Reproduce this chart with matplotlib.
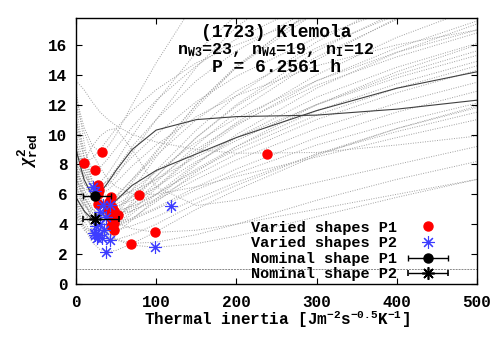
import matplotlib
matplotlib.use('Agg')
import matplotlib.pyplot as plt
from matplotlib.legend_handler import HandlerErrorbar
from matplotlib.container import ErrorbarContainer

plt.rcParams['font.family'] = ['Liberation Mono', 'DejaVu Sans']
plt.rcParams['font.weight'] = 'bold'
plt.rcParams['mathtext.fontset'] = 'custom'
plt.rcParams['mathtext.rm'] = 'Liberation Mono:bold'
plt.rcParams['mathtext.bf'] = 'Liberation Mono:bold'
plt.rcParams['mathtext.it'] = 'Liberation Serif:italic'

# ---------------- data ----------------
# thermal inertia grid of the chi2 curves
curve_x = [0, 10, 20, 30, 40, 50, 70, 100, 150, 200, 300, 400, 500]

# chi2 curves of varied shapes, period P1
curves_p1 = [
    [9.0, 8.1, 8.4, 9.0, 9.7, 10.4, 11.6, 13.0, 14.8, 16.0, 18.0, 19.5, 21.0],
    [12.5, 10.5, 9.3, 8.8, 9.2, 10.0, 12.0, 14.8, 19.0, 23.0, 30.0, 36.0, 42.0],
    [11.0, 9.0, 7.7, 7.8, 8.4, 9.1, 10.5, 12.3, 14.6, 16.4, 19.0, 21.0, 23.0],
    [8.0, 7.2, 6.7, 6.6, 6.9, 7.4, 8.5, 10.0, 12.2, 13.9, 16.5, 18.5, 20.0],
    [13.0, 9.5, 6.8, 6.3, 6.6, 7.2, 8.8, 11.0, 14.5, 17.2, 21.0, 24.0, 26.0],
    [6.8, 6.4, 6.1, 6.0, 6.3, 6.8, 7.9, 9.3, 11.2, 12.6, 14.6, 16.0, 17.0],
    [10.5, 8.5, 7.0, 6.2, 5.85, 5.8, 6.2, 7.0, 8.5, 9.8, 12.0, 13.8, 15.3],
    [12.0, 10.2, 8.8, 7.8, 7.0, 6.5, 6.05, 6.0, 6.5, 7.2, 8.5, 9.8, 11.0],
    [7.5, 6.3, 5.6, 5.35, 5.5, 5.9, 7.0, 8.6, 11.0, 12.9, 15.8, 18.0, 19.8],
    [9.0, 7.5, 6.3, 5.7, 5.5, 5.6, 6.3, 7.5, 9.5, 11.1, 13.6, 15.5, 17.0],
    [8.5, 7.0, 6.0, 5.4, 5.2, 5.2, 5.6, 6.5, 8.2, 9.6, 12.0, 14.0, 15.6],
    [11.0, 8.5, 6.8, 5.7, 5.1, 4.9, 5.2, 6.0, 7.6, 9.0, 11.3, 13.1, 14.6],
    [9.5, 7.5, 6.2, 5.3, 4.9, 4.7, 4.9, 5.6, 7.0, 8.3, 10.4, 12.1, 13.5],
    [7.0, 5.8, 5.0, 4.6, 4.4, 4.45, 4.9, 5.7, 7.3, 8.7, 11.0, 12.8, 14.3],
    [8.0, 6.3, 5.1, 4.5, 4.2, 4.1, 4.4, 5.1, 6.5, 7.7, 9.8, 11.5, 12.9],
    [6.5, 5.3, 4.6, 4.1, 3.9, 3.95, 4.3, 5.0, 6.3, 7.4, 9.3, 10.8, 12.1],
    [7.2, 5.5, 4.4, 3.9, 3.65, 3.6, 3.9, 4.5, 5.7, 6.8, 8.7, 10.2, 11.5],
    [9.0, 7.0, 5.8, 5.0, 4.5, 4.1, 3.7, 3.45, 3.6, 4.0, 5.0, 6.0, 7.0],
    [8.0, 6.0, 4.8, 4.0, 3.4, 3.0, 2.72, 2.8, 3.3, 4.0, 5.6, 7.0, 8.2],
    [13.6, 13.0, 12.2, 11.5, 11.0, 10.6, 10.0, 9.5, 9.0, 8.75, 8.8, 9.3, 9.9],
    [10.0, 8.0, 6.3, 5.2, 4.75, 4.7, 5.3, 6.5, 8.8, 10.8, 14.0, 16.5, 18.5],
    [8.3, 6.8, 5.8, 5.2, 5.0, 5.1, 5.8, 7.2, 9.8, 12.0, 15.6, 18.2, 20.3],
]

# chi2 curves of varied shapes, period P2
curves_p2 = [
    [9.0, 7.4, 6.5, 6.8, 7.4, 8.2, 9.9, 12.2, 15.5, 18.0, 22.0, 25.0, 27.0],
    [7.5, 6.7, 6.25, 6.4, 7.0, 7.7, 9.2, 11.0, 13.6, 15.6, 18.6, 20.8, 22.5],
    [12.0, 8.5, 6.2, 5.35, 5.4, 5.8, 7.0, 8.9, 12.0, 14.5, 18.2, 21.0, 23.2],
    [9.5, 7.8, 6.5, 5.7, 5.35, 5.35, 5.9, 7.0, 9.0, 10.7, 13.3, 15.2, 16.8],
    [6.0, 5.3, 4.8, 4.55, 4.5, 4.6, 5.1, 6.0, 7.7, 9.2, 11.6, 13.4, 14.9],
    [7.0, 5.8, 5.0, 4.8, 5.0, 5.5, 6.8, 8.8, 12.0, 14.6, 18.5, 21.5, 24.0],
    [5.5, 4.5, 3.9, 3.9, 4.2, 4.7, 5.9, 7.6, 10.3, 12.6, 16.2, 19.0, 21.2],
    [5.0, 3.9, 3.4, 3.6, 4.1, 4.8, 6.3, 8.5, 11.8, 14.5, 18.6, 21.6, 24.0],
    [6.0, 4.2, 3.35, 3.4, 3.8, 4.3, 5.5, 7.2, 9.8, 11.9, 15.2, 17.7, 19.7],
    [4.8, 3.8, 3.35, 3.25, 3.5, 3.9, 4.9, 6.4, 8.7, 10.6, 13.6, 15.8, 17.6],
    [7.5, 5.0, 3.6, 3.1, 3.1, 3.4, 4.3, 5.7, 8.0, 10.0, 13.1, 15.5, 17.4],
    [4.6, 3.6, 3.15, 3.15, 3.4, 3.8, 4.7, 6.0, 8.1, 9.8, 12.5, 14.5, 16.1],
    [6.8, 4.9, 3.8, 3.2, 2.97, 2.97, 3.3, 4.0, 5.4, 6.6, 8.7, 10.4, 11.8],
    [5.5, 3.8, 2.8, 2.3, 2.17, 2.25, 2.7, 3.5, 5.0, 6.3, 8.6, 10.4, 11.9],
    [7.5, 5.5, 4.3, 3.6, 3.2, 2.95, 2.6, 2.45, 2.7, 3.2, 4.5, 5.8, 7.0],
    [7.0, 8.2, 9.2, 9.9, 10.3, 10.4, 9.0, 6.5, 5.25, 5.6, 6.8, 8.0, 9.2],
    [8.0, 5.8, 4.4, 3.7, 3.6, 3.75, 4.4, 5.5, 7.5, 9.2, 12.0, 14.2, 16.0],
    [5.8, 4.8, 4.2, 4.0, 4.1, 4.4, 5.3, 6.8, 9.3, 11.5, 15.0, 17.8, 20.0],
]

# chi2 curves of the nominal shape
nominal_curve_p1 = [9.0, 7.0, 5.95, 6.1, 6.8, 7.6, 9.0, 10.3, 11.0, 11.2, 11.3, 11.7, 12.3]
nominal_curve_p2 = [5.8, 4.9, 4.35, 4.5, 5.0, 5.6, 6.6, 7.6, 8.7, 9.8, 11.6, 13.1, 14.2]

# best-fit minima of varied shapes
p1_gamma = [10, 33, 24, 28, 29, 27, 44, 78, 28, 41, 45, 48, 52, 44, 48, 44, 48, 98, 68, 238, 43, 40]
p1_chi2 = [8.1, 8.8, 7.6, 6.6, 6.3, 6.0, 5.8, 5.95, 5.35, 5.5, 5.15, 4.9, 4.65, 4.4, 4.1, 3.9, 3.6,
           3.45, 2.7, 8.7, 4.7, 5.0]
p2_gamma = [21.6, 24, 34, 42, 38, 30, 25, 22, 24, 28, 32, 26, 42, 38, 98.5, 119, 35, 30]
p2_chi2 = [6.5, 6.2, 5.3, 5.3, 4.5, 4.8, 3.85, 3.4, 3.3, 3.25, 3.05, 3.1, 2.95, 2.15, 2.45, 5.2,
           3.6, 4.0]

# nominal shapes with thermal-inertia uncertainty
nominal_gamma = [23.7, 23.7]
nominal_chi2 = [5.9, 4.33]
nominal_err_low = [15.4, 15.4]
nominal_err_high = [19.9, 30.3]

title_lines = ['(1723) Klemola',
               r'n$_{\mathrm{W3}}$=23, n$_{\mathrm{W4}}$=19, n$_{\mathrm{I}}$=12',
               'P = 6.2561 h']

# ---------------- figure ----------------
fig = plt.figure(figsize=(5, 3.5), dpi=100)
ax = fig.add_axes([0.152, 0.1886, 0.802, 0.76])

dot_style = dict(color='#a0a0a0', lw=0.7, linestyle=(0, (1, 1.5)))
for c in curves_p1 + curves_p2:
    ax.plot(curve_x, c, **dot_style, zorder=1)
ax.plot(curve_x, nominal_curve_p1, color='#404040', lw=0.8, zorder=2)
ax.plot(curve_x, nominal_curve_p2, color='#404040', lw=0.8, zorder=2)

ax.axhline(1.0, color='#888888', lw=0.7, linestyle=(0, (2, 1)), zorder=1)

ax.plot(p1_gamma, p1_chi2, linestyle='none', marker='o', ms=6.5, color='#ff0000',
        mec='#ff0000', label='Varied shapes P1', zorder=3)
ax.plot(p2_gamma, p2_chi2, linestyle='none', marker=(8, 2, 0), ms=9, mew=0.8,
        color='#3c3cff', label='Varied shapes P2', zorder=4)
ax.errorbar(nominal_gamma[:1], nominal_chi2[:1],
            xerr=[nominal_err_low[:1], nominal_err_high[:1]],
            linestyle='none', marker='o', ms=6.5, color='black', elinewidth=1.0,
            capsize=2.5, label='Nominal shape P1', zorder=5)
ax.errorbar(nominal_gamma[1:], nominal_chi2[1:],
            xerr=[nominal_err_low[1:], nominal_err_high[1:]],
            linestyle='none', marker=(8, 2, 0), ms=9, mew=1.2, color='black',
            elinewidth=1.0, capsize=2.5, label='Nominal shape P2', zorder=5)

ax.set_xlim(0, 500)
ax.set_ylim(0, 17.8)
ax.set_xticks([0, 100, 200, 300, 400, 500])
ax.set_yticks([0, 2, 4, 6, 8, 10, 12, 14, 16])
ax.tick_params(direction='in', length=4.5, width=0.8, top=True, right=True,
               labelsize=11.5)
ax.tick_params(axis='x', pad=8)
ax.tick_params(axis='y', pad=6)
for s in ax.spines.values():
    s.set_linewidth(1.0)

ax.set_xlabel(r'Thermal inertia [Jm$^{\mathrm{-2}}$s$^{\mathrm{-0.5}}$K$^{\mathrm{-1}}$]',
              fontsize=11.5, fontweight='bold', labelpad=0)
ax.set_ylabel(r'$\chi^{2}_{\mathrm{red}}$', fontsize=13, labelpad=6)

ax.text(250, 16.8, title_lines[0], ha='center', va='center', fontsize=13, fontweight='bold')
ax.text(249, 15.66, title_lines[1], ha='center', va='center', fontsize=12, fontweight='bold')
ax.text(250, 14.46, title_lines[2], ha='center', va='center', fontsize=13, fontweight='bold')

handles, labels = ax.get_legend_handles_labels()
order = ['Varied shapes P1', 'Varied shapes P2', 'Nominal shape P1', 'Nominal shape P2']
hl = [handles[labels.index(o)] for o in order]
leg = ax.legend(hl, order, loc='lower right', bbox_to_anchor=(0.948, -0.019),
                frameon=False, markerfirst=False, numpoints=1, fontsize=11,
                handlelength=2.7, handletextpad=0.7, borderpad=0, labelspacing=0.1,
                handler_map={ErrorbarContainer: HandlerErrorbar(xerr_size=1.3)})
for t in leg.get_texts():
    t.set_fontweight('bold')

fig.savefig('out.png', dpi=100)
